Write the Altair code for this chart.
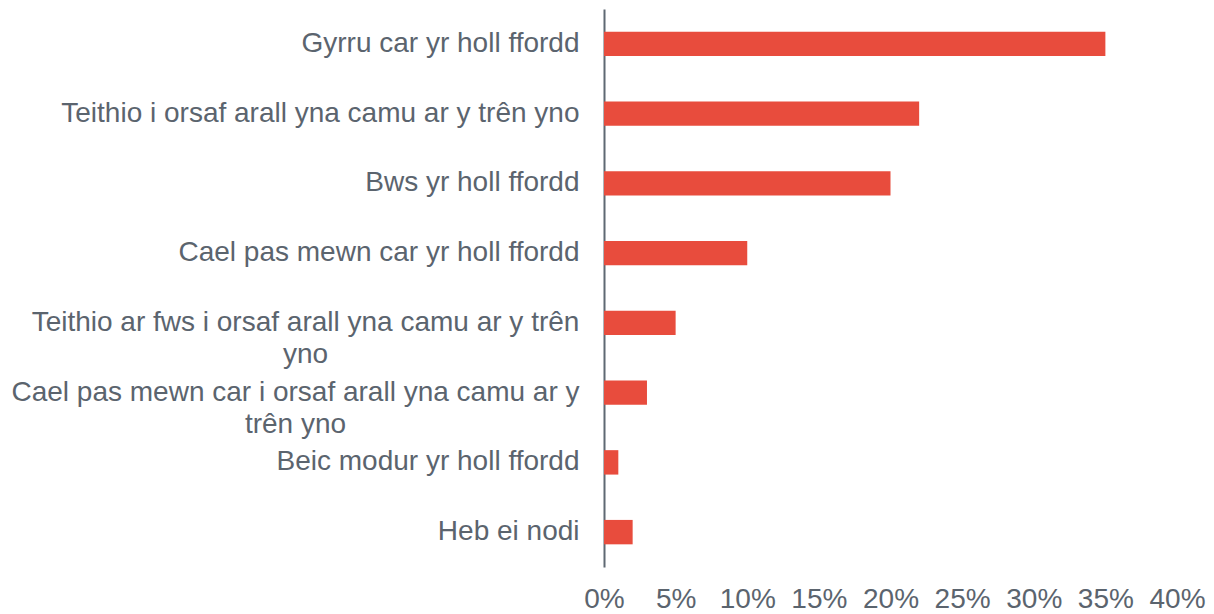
import altair as alt
import pandas as pd

categories = [
    "Gyrru car yr holl ffordd",
    "Teithio i orsaf arall yna camu ar y trên yno",
    "Bws yr holl ffordd",
    "Cael pas mewn car yr holl ffordd",
    "Teithio ar fws i orsaf arall yna camu ar y trên yno",
    "Cael pas mewn car i orsaf arall yna camu ar y trên yno",
    "Beic modur yr holl ffordd",
    "Heb ei nodi",
]
values = [0.35, 0.22, 0.20, 0.10, 0.05, 0.03, 0.01, 0.02]
x_ticks = [0, 0.05, 0.10, 0.15, 0.20, 0.25, 0.30, 0.35, 0.40]

df = pd.DataFrame({"cat": categories, "val": values})

TEXT = "#5B646E"
FONT = "Liberation Sans"

W1 = categories[4]
W2 = categories[5]

label_expr = (
    f"datum.label == '{W1}' ? ['Teithio ar fws i orsaf arall yna camu ar y trên', 'yno'] : "
    f"datum.label == '{W2}' ? ['Cael pas mewn car i orsaf arall yna camu ar y', 'trên yno'] : datum.label"
)
wrapped_test = f"datum.value == '{W1}' || datum.value == '{W2}'"

chart = alt.Chart(df).mark_bar(color="#E84C3D").encode(
    x=alt.X("val:Q", scale=alt.Scale(domain=[0, 0.4], nice=False),
            axis=alt.Axis(values=x_ticks, format=".0%", title=None, domain=False,
                          ticks=False, grid=False, labelFontSize=28, labelColor=TEXT,
                          labelFont=FONT, labelPadding=18, labelFlush=False)),
    y=alt.Y("cat:N", sort=categories,
            scale=alt.Scale(paddingInner=0.65, paddingOuter=0.325),
            axis=alt.Axis(title=None, domain=True, domainColor="#5F6973", domainWidth=2,
                          ticks=False, grid=False, labelFontSize=28, labelColor=TEXT,
                          labelFont=FONT, labelLimit=0, labelLineHeight=32,
                          labelExpr=label_expr,
                          labelAlign={"condition": {"test": wrapped_test, "value": "center"},
                                      "value": "right"},
                          labelPadding={"condition": [
                              {"test": f"datum.value == '{W1}'", "value": 299},
                              {"test": f"datum.value == '{W2}'", "value": 309}],
                              "value": 25})),
).properties(
    width=573, height=558,
    autosize=alt.AutoSizeParams(type="none"),
    padding={"left": 596, "top": 1, "right": 29, "bottom": 45},
).configure(background="white").configure_view(strokeWidth=0, stroke="transparent")

chart.save("out.html", embed_options={"renderer": "svg", "actions": False})
